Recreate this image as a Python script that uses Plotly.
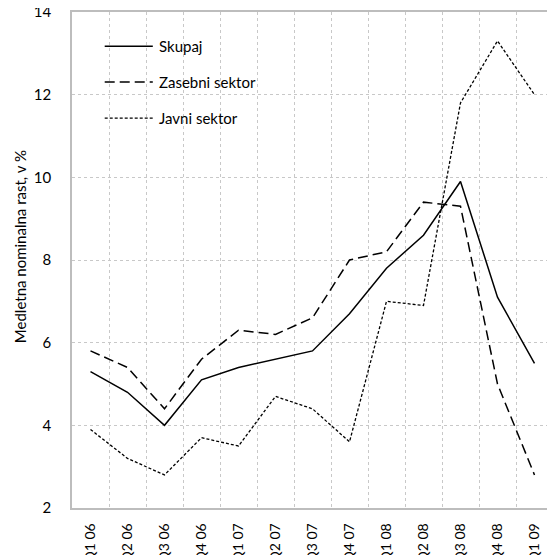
import plotly.graph_objects as go

quarters = ["Q1 06", "Q2 06", "Q3 06", "Q4 06", "Q1 07", "Q2 07", "Q3 07",
            "Q4 07", "Q1 08", "Q2 08", "Q3 08", "Q4 08", "Q1 09"]
skupaj = [5.3, 4.8, 4.0, 5.1, 5.4, 5.6, 5.8, 6.7, 7.8, 8.6, 9.9, 7.1, 5.5]
zasebni = [5.8, 5.4, 4.4, 5.6, 6.3, 6.2, 6.6, 8.0, 8.2, 9.4, 9.3, 5.0, 2.8]
javni = [3.9, 3.2, 2.8, 3.7, 3.5, 4.7, 4.4, 3.6, 7.0, 6.9, 11.8, 13.3, 12.0]

series = [
    ("Skupaj", skupaj, dict(color="black", width=1.5)),
    ("Zasebni sektor", zasebni, dict(color="black", width=1.5, dash="10px,5px")),
    ("Javni sektor", javni, dict(color="black", width=1.3, dash="3px,2px")),
]

x_idx = list(range(len(quarters)))
font_name = "Lato"

fig = go.Figure()
for name, vals, line in series:
    fig.add_trace(go.Scatter(x=x_idx, y=vals, name=name, mode="lines", line=line))

# hand-made legend, so the sample lines can be as long as in the original
legend_y = [0.931, 0.859, 0.786]
for (name, vals, line), ly in zip(series, legend_y):
    fig.add_shape(type="line", xref="paper", yref="paper",
                  x0=0.068, x1=0.168, y0=ly, y1=ly, line=line)
    fig.add_annotation(text=name, xref="paper", yref="paper", x=0.176, y=ly,
                       xanchor="left", yanchor="middle", showarrow=False,
                       font=dict(size=15))

fig.add_annotation(text="Medletna nominalna rast, v %", xref="paper", yref="paper",
                   x=-0.108, y=0.526, textangle=-90, showarrow=False,
                   xanchor="center", yanchor="middle", font=dict(size=15))

# page body adds ~8px offset, so margins are shifted to keep the plot box in place
fig.update_layout(
    width=555, height=555,
    margin=dict(l=64, r=10, t=4, b=55),
    paper_bgcolor="white", plot_bgcolor="white",
    font=dict(family=font_name, size=14, color="black"),
    showlegend=False,
)
fig.update_xaxes(
    range=[-0.5, len(quarters) - 0.5],
    tickmode="array", tickvals=x_idx, ticktext=quarters,
    tickangle=-90, showgrid=False, zeroline=False,
    minor=dict(tickvals=[k + 0.5 for k in x_idx[:-1]], showgrid=True,
               gridcolor="#c8c8c8", griddash="dot", gridwidth=1, ticks=""),
    showline=True, linecolor="#bdbdbd", linewidth=1.5, mirror=True,
    ticks="", automargin=False, ticklabelstandoff=8, ticklabeloverflow="allow",
    tickfont=dict(size=14),
)
fig.update_yaxes(
    range=[2, 14], tickvals=[2, 4, 6, 8, 10, 12, 14],
    showgrid=True, gridcolor="#c8c8c8", griddash="dot", gridwidth=1,
    zeroline=False, showline=True, linecolor="#bdbdbd", linewidth=1.5, mirror=True,
    ticks="", automargin=False, ticklabelstandoff=16, ticklabeloverflow="allow",
    tickfont=dict(size=15),
)

fig.write_html("out.html")
